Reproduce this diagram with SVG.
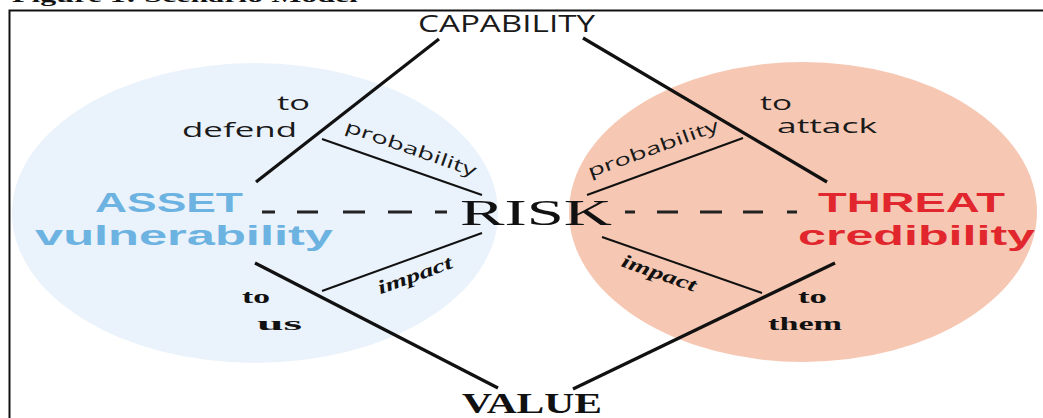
<svg xmlns="http://www.w3.org/2000/svg" width="1043" height="418" viewBox="0 0 1043 418">
<style>
.sans{font-family:"Open Sans","DejaVu Sans",sans-serif;fill:#1a1a1a}
.serif{font-family:"Liberation Serif","DejaVu Serif",serif;fill:#111}
.big{stroke:#111;stroke-width:3.2;stroke-linecap:butt;fill:none}
.thin{stroke:#111;stroke-width:2;fill:none}
.dash{stroke:#222;stroke-width:3;fill:none}
.lbl{font-size:20px}
.rot{font-size:17px}
.blk{font-family:"Liberation Serif","DejaVu Serif",serif;font-weight:bold;fill:#111;font-size:19px}
.head{font-family:"Liberation Sans","Arial",sans-serif;font-weight:700;font-size:28.5px}
</style>
<rect width="1043" height="418" fill="#fff"/>
<text x="12" y="2" class="serif" font-weight="bold" font-size="18" textLength="346" lengthAdjust="spacingAndGlyphs">Figure 1: Scenario Model</text>
<g id="frame"><path d="M9.5 418V10.5H1043" stroke="#111" stroke-width="2" fill="none"/></g>
<g id="asset">
<ellipse cx="255" cy="213" rx="243" ry="150" fill="#EAF2FB"/>
<text x="95" y="212" class="head" fill="#6DB3E2" textLength="148" lengthAdjust="spacingAndGlyphs">ASSET</text>
<text x="35" y="245" class="head" fill="#6DB3E2" textLength="298" lengthAdjust="spacingAndGlyphs">vulnerability</text>
</g>
<g id="threat">
<ellipse cx="803" cy="212" rx="234" ry="150" fill="#F6C8B3"/>
<text x="818" y="212" class="head" fill="#E1262D" textLength="187" lengthAdjust="spacingAndGlyphs">THREAT</text>
<text x="798" y="245" class="head" fill="#E1262D" textLength="237" lengthAdjust="spacingAndGlyphs">credibility</text>
</g>
<g id="capability"><text x="418" y="32" class="sans" font-size="24" textLength="177" lengthAdjust="spacingAndGlyphs">CAPABILITY</text></g>
<g id="risk"><text x="460" y="225" class="serif" font-size="35" textLength="152" lengthAdjust="spacingAndGlyphs">RISK</text></g>
<g id="value"><text x="462" y="413" class="serif" font-weight="bold" font-size="29" textLength="140" lengthAdjust="spacingAndGlyphs">VALUE</text></g>
<g id="connectors">
<path class="big" d="M256 182L439 39"/>
<path class="big" d="M583 38L827 182"/>
<path class="big" d="M255 263L498 388"/>
<path class="big" d="M835 263L573 389"/>
<path class="thin" d="M322 139L482 195"/>
<path class="thin" d="M587 195L743 138"/>
<path class="thin" d="M322 291L482 233"/>
<path class="thin" d="M602 237L762 293"/>
<path class="dash" d="M262 212h13M297 212h21M343 212h22M388 212h24M435 212h12"/>
<path class="dash" d="M625 212h10M657 212h21M700 212h22M743 212h20M787 212h10"/>
</g>
<g id="labels">
<text x="277" y="110" class="sans lbl" textLength="33" lengthAdjust="spacingAndGlyphs">to</text>
<text x="182" y="137" class="sans lbl" textLength="115" lengthAdjust="spacingAndGlyphs">defend</text>
<text x="760" y="110" class="sans lbl" textLength="32" lengthAdjust="spacingAndGlyphs">to</text>
<text x="777" y="133" class="sans lbl" textLength="100" lengthAdjust="spacingAndGlyphs">attack</text>
<text transform="translate(409 154) rotate(19.3)" text-anchor="middle" class="sans rot" textLength="138" lengthAdjust="spacingAndGlyphs">probability</text>
<text transform="translate(655 154) rotate(-20)" text-anchor="middle" class="sans rot" textLength="138" lengthAdjust="spacingAndGlyphs">probability</text>
<text transform="translate(417 281) rotate(-20)" text-anchor="middle" class="blk" font-style="italic" font-weight="normal" font-size="17" textLength="78" lengthAdjust="spacingAndGlyphs">impact</text>
<text transform="translate(657 279) rotate(19.3)" text-anchor="middle" class="blk" font-style="italic" font-weight="normal" font-size="17" textLength="78" lengthAdjust="spacingAndGlyphs">impact</text>
<text x="242" y="303" class="blk" textLength="28" lengthAdjust="spacingAndGlyphs">to</text>
<text x="257" y="330" class="blk" textLength="45" lengthAdjust="spacingAndGlyphs">us</text>
<text x="798" y="303" class="blk" textLength="29" lengthAdjust="spacingAndGlyphs">to</text>
<text x="768" y="330" class="blk" textLength="74" lengthAdjust="spacingAndGlyphs">them</text>
</g>
</svg>
